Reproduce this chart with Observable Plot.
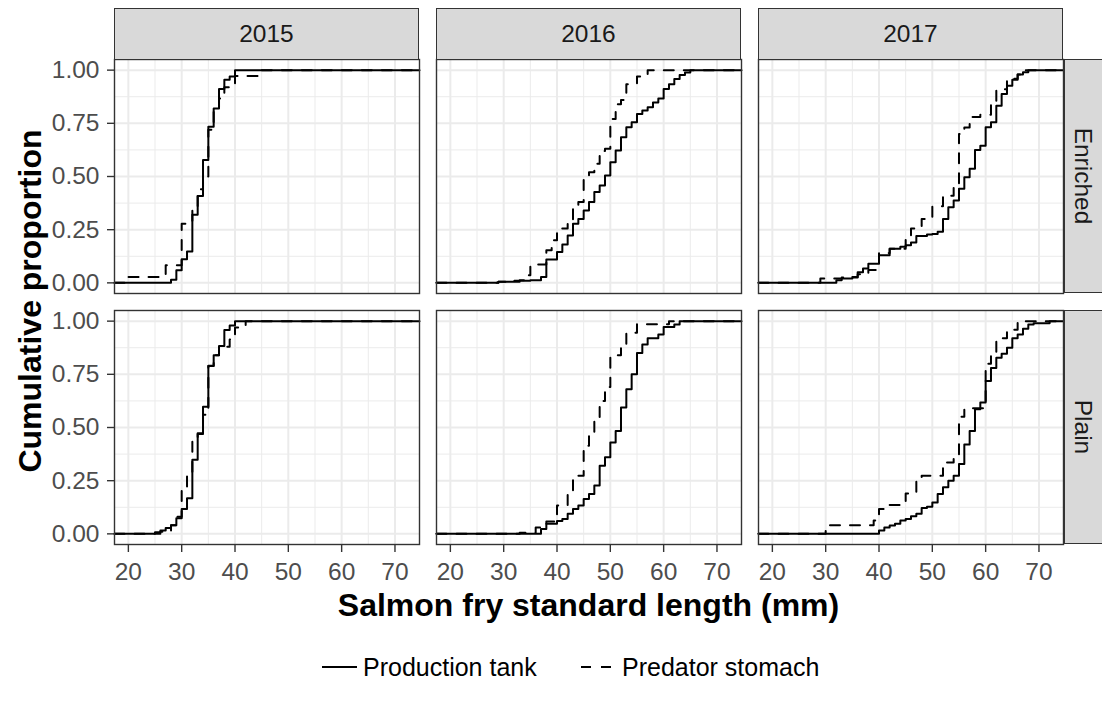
<!DOCTYPE html>
<html>
<head>
<meta charset="utf-8">
<script src="https://cdn.jsdelivr.net/npm/d3@7"></script>
<script src="https://cdn.jsdelivr.net/npm/@observablehq/plot@0.6"></script>
<style>
html,body{margin:0;padding:0;background:#fff;}
#wrap{position:relative;width:1102px;height:708px;overflow:hidden;font-family:"Liberation Sans",Arial,Helvetica,sans-serif;background:#fff;}
.strip{position:absolute;box-sizing:border-box;background:#D9D9D9;border:1.4px solid #333333;}
.lbl{position:absolute;white-space:nowrap;line-height:1;}
</style>
</head>
<body>
<div id="wrap"></div>
<script>
// ---- categories / labels ----
const years = ["2015", "2016", "2017"];
const treatments = ["Enriched", "Plain"];
const sources = ["Production tank", "Predator stomach"];
const xTicks = [20, 30, 40, 50, 60, 70];
const xMinor = [25, 35, 45, 55, 65];
const yTicks = [0, 0.25, 0.5, 0.75, 1];
const yMinor = [0.125, 0.375, 0.625, 0.875];
const xTitle = "Salmon fry standard length (mm)";
const yTitle = "Cumulative proportion";

// ---- ECDF steps: [length (mm), cumulative proportion] ----
const prod2015E = [[28,0.015],[29,0.059],[30,0.111],[31,0.148],[32,0.32],[33,0.408],[34,0.578],[35,0.734],[36,0.82],[37,0.911],[38,0.955],[39,0.97],[40,1]];
const pred2015E = [[20,0.028],[27,0.083],[30,0.278],[31,0.28],[32,0.36],[33,0.44],[34,0.5],[35,0.72],[36,0.82],[37,0.867],[38,0.92],[40,0.973],[45,1]];
const prod2015P = [[25,0.008],[26,0.016],[27,0.027],[28,0.04],[29,0.073],[30,0.117],[31,0.167],[32,0.348],[33,0.473],[34,0.598],[35,0.789],[36,0.84],[37,0.883],[38,0.958],[39,0.98],[40,1]];
const pred2015P = [[26,0.01],[28,0.04],[29,0.08],[30,0.21],[31,0.28],[32,0.45],[33,0.47],[34,0.56],[35,0.79],[36,0.84],[37,0.88],[39,0.914],[40,0.97],[42,1]];
const prod2016E = [[29,0.005],[32,0.01],[35,0.012],[37,0.028],[38,0.11],[40,0.145],[41,0.18],[42,0.223],[43,0.278],[44,0.30],[45,0.34],[46,0.38],[47,0.427],[48,0.458],[49,0.505],[50,0.567],[51,0.622],[52,0.684],[53,0.731],[54,0.755],[55,0.794],[56,0.81],[57,0.825],[58,0.848],[59,0.867],[60,0.911],[61,0.934],[62,0.958],[63,0.977],[64,0.989],[65,1]];
const pred2016E = [[29,0.005],[33,0.012],[34,0.036],[35,0.086],[38,0.153],[39,0.2],[40,0.255],[42,0.29],[43,0.36],[44,0.38],[45,0.5],[46,0.52],[47,0.56],[48,0.62],[49,0.63],[50,0.77],[51,0.84],[52,0.86],[53,0.934],[55,0.97],[57,1]];
const prod2016P = [[37,0.023],[38,0.047],[40,0.06],[41,0.07],[42,0.094],[43,0.117],[44,0.133],[45,0.164],[46,0.1875],[47,0.227],[48,0.32],[49,0.36],[50,0.43],[51,0.484],[52,0.594],[53,0.68],[54,0.75],[55,0.85],[56,0.89],[57,0.919],[59,0.9375],[60,0.973],[62,0.984],[63,1]];
const pred2016P = [[33,0.005],[36,0.03],[38,0.058],[40,0.133],[42,0.19],[43,0.258],[44,0.273],[45,0.414],[46,0.47],[47,0.53],[48,0.625],[49,0.69],[50,0.83],[51,0.84],[52,0.89],[53,0.945],[55,0.985],[61,1]];
const prod2017E = [[32,0.0125],[33,0.02],[35,0.028],[36,0.05],[37,0.067],[38,0.09],[40,0.13],[42,0.16],[44,0.17],[45,0.177],[46,0.19],[47,0.22],[49,0.227],[50,0.23],[51,0.24],[52,0.30],[53,0.356],[54,0.387],[55,0.442],[56,0.497],[57,0.536],[58,0.625],[59,0.645],[60,0.731],[61,0.755],[62,0.833],[63,0.8875],[64,0.927],[65,0.955],[66,0.98],[67,0.99],[68,1]];
const pred2017E = [[29,0.02],[33,0.025],[36,0.04],[38,0.06],[40,0.14],[42,0.16],[45,0.21],[46,0.255],[48,0.30],[50,0.36],[52,0.41],[54,0.46],[55,0.70],[56,0.73],[57,0.78],[59,0.79],[61,0.85],[62,0.91],[64,0.96],[66,0.98],[67,1]];
const prod2017P = [[40,0.016],[41,0.03],[42,0.039],[43,0.047],[44,0.0625],[45,0.07],[46,0.083],[47,0.094],[48,0.122],[49,0.128],[50,0.148],[51,0.1875],[52,0.219],[53,0.25],[54,0.273],[55,0.328],[56,0.42],[57,0.484],[58,0.586],[59,0.617],[60,0.719],[61,0.78],[62,0.828],[63,0.847],[64,0.875],[65,0.92],[66,0.9375],[67,0.964],[68,0.984],[69,0.99],[72,1]];
const pred2017P = [[30,0.04],[39,0.0625],[40,0.117],[42,0.136],[45,0.19],[47,0.255],[48,0.273],[52,0.336],[54,0.36],[55,0.55],[56,0.59],[60,0.8],[61,0.84],[62,0.92],[64,0.96],[66,1]];

const curves = {
  "2015|Enriched": [prod2015E, pred2015E],
  "2015|Plain": [prod2015P, pred2015P],
  "2016|Enriched": [prod2016E, pred2016E],
  "2016|Plain": [prod2016P, pred2016P],
  "2017|Enriched": [prod2017E, pred2017E],
  "2017|Plain": [prod2017P, pred2017P]
};

// ---- layout ----
const colLeft = [114, 436, 758], rowTop = [59, 310], PW = 305, PH = 234;
const xDomain = [17.4, 74.6], yDomain = [-0.05, 1.05];
const ML = 72, MB = 46;
const FS = 24.5;

// tidy table with ECDF padding at both panel edges
const table = [];
for (const yr of years) for (const tr of treatments) {
  const pair = curves[yr + "|" + tr];
  sources.forEach((src, si) => {
    table.push({year: yr, treatment: tr, source: src, len: xDomain[0], cum: 0});
    for (const [len, cum] of pair[si]) table.push({year: yr, treatment: tr, source: src, len, cum});
    table.push({year: yr, treatment: tr, source: src, len: xDomain[1], cum: 1});
  });
}

const wrap = document.getElementById("wrap");

function panel(ci, ri) {
  const ml = ci === 0 ? ML : 0, mb = ri === 1 ? MB : 0;
  const yr = years[ci], tr = treatments[ri];
  const sub = s => table.filter(d => d.year === yr && d.treatment === tr && d.source === s);
  const marks = [
    Plot.ruleX(xMinor, {stroke: "#EBEBEB", strokeWidth: 1}),
    Plot.ruleY(yMinor, {stroke: "#EBEBEB", strokeWidth: 1}),
    Plot.ruleX(xTicks, {stroke: "#EBEBEB", strokeWidth: 2}),
    Plot.ruleY(yTicks, {stroke: "#EBEBEB", strokeWidth: 2}),
    Plot.line(sub(sources[0]), {x: "len", y: "cum", curve: "step-after", stroke: "#000", strokeWidth: 2}),
    Plot.line(sub(sources[1]), {x: "len", y: "cum", curve: "step-after", stroke: "#000", strokeWidth: 2, strokeDasharray: "10,10"}),
    Plot.frame({stroke: "#333333", strokeWidth: 1.4})
  ];
  if (ci === 0) marks.push(Plot.axisY({ticks: yTicks, tickSize: 7, tickPadding: 8, tickFormat: d3.format(".2f"), fontSize: FS, stroke: "#333333", fill: "#4D4D4D", strokeWidth: 1.4, label: null}));
  if (ri === 1) marks.push(Plot.axisX({ticks: xTicks, tickSize: 8, tickPadding: 10, tickFormat: d => String(d), fontSize: FS, stroke: "#333333", fill: "#4D4D4D", strokeWidth: 1.4, label: null}));
  const svg = Plot.plot({
    width: PW + ml, height: PH + mb,
    marginLeft: ml, marginRight: 0, marginTop: 0, marginBottom: mb,
    style: {background: "transparent", fontFamily: "'Liberation Sans', Arial, sans-serif", fontSize: FS + "px", overflow: "visible"},
    x: {domain: xDomain, axis: null},
    y: {domain: yDomain, axis: null},
    marks
  });
  svg.style.position = "absolute";
  svg.style.left = (colLeft[ci] - ml) + "px";
  svg.style.top = rowTop[ri] + "px";
  svg.style.maxWidth = "none";
  wrap.appendChild(svg);
}

for (let ci = 0; ci < 3; ci++) for (let ri = 0; ri < 2; ri++) panel(ci, ri);

function div(cls, css, text) {
  const d = document.createElement("div");
  d.className = cls;
  Object.assign(d.style, css);
  if (text != null) d.textContent = text;
  wrap.appendChild(d);
  return d;
}

// top strips
years.forEach((yr, ci) => {
  div("strip", {left: colLeft[ci] + "px", top: "8px", width: PW + "px", height: "51.5px"});
  div("lbl", {left: (colLeft[ci] + PW / 2) + "px", top: "34px", transform: "translate(-50%,-50%)", fontSize: FS + "px", color: "#1A1A1A"}, yr);
});
// right strips
treatments.forEach((tr, ri) => {
  div("strip", {left: "1064px", top: rowTop[ri] + "px", width: "50px", height: PH + "px"});
  div("lbl", {left: "1083px", top: (rowTop[ri] + PH / 2) + "px", transform: "translate(-50%,-50%) rotate(90deg)", fontSize: FS + "px", color: "#1A1A1A"}, tr);
});

// axis titles
div("lbl", {left: "30px", top: "301px", transform: "translate(-50%,-50%) rotate(-90deg)", fontSize: "32px", fontWeight: "bold", color: "#000"}, yTitle);
div("lbl", {left: "588.5px", top: "605px", transform: "translate(-50%,-50%)", fontSize: "32px", fontWeight: "bold", color: "#000"}, xTitle);

// legend
const NS = "http://www.w3.org/2000/svg";
function key(x, dash) {
  const s = document.createElementNS(NS, "svg");
  s.setAttribute("width", 36); s.setAttribute("height", 10);
  Object.assign(s.style, {position: "absolute", left: x + "px", top: "662px"});
  const l = document.createElementNS(NS, "line");
  l.setAttribute("x1", 0); l.setAttribute("x2", 35); l.setAttribute("y1", 5); l.setAttribute("y2", 5);
  l.setAttribute("stroke", "#000"); l.setAttribute("stroke-width", 2);
  if (dash) l.setAttribute("stroke-dasharray", dash);
  s.appendChild(l);
  wrap.appendChild(s);
}
key(322, null);
div("lbl", {left: "363px", top: "667px", transform: "translateY(-50%)", fontSize: "25px", color: "#000"}, sources[0]);
key(581, "10,10");
div("lbl", {left: "622px", top: "667px", transform: "translateY(-50%)", fontSize: "25px", color: "#000"}, sources[1]);
</script>
</body>
</html>
